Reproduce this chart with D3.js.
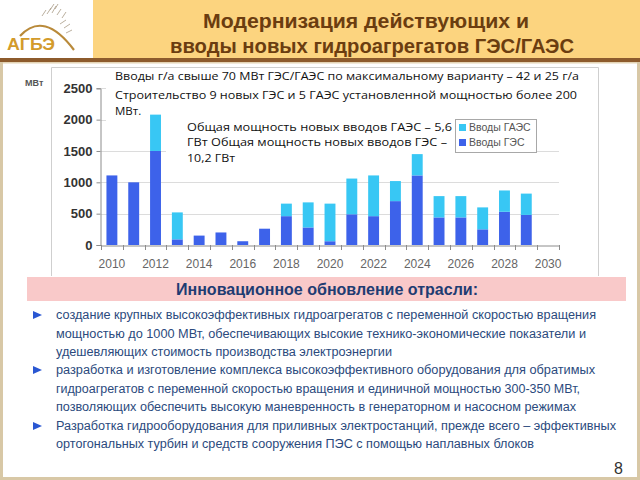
<!DOCTYPE html>
<html><head><meta charset="utf-8">
<script src="https://cdn.jsdelivr.net/npm/d3@7"></script>
<style>body{margin:0;background:#fff}svg{display:block}</style>
</head><body><svg id="c" width="640" height="480"></svg>
<script>
// ---------------- data ----------------
const years = [2010,2011,2012,2013,2014,2015,2016,2017,2018,2019,2020,2021,2022,2023,2024,2025,2026,2027,2028,2029,2030];
const gesValues  = [1110,1000,1500,90,150,200,60,260,460,280,60,490,460,700,1110,440,440,250,530,480,0];
const gaesValues = [0,0,580,430,0,0,0,0,200,400,600,570,650,320,340,340,340,350,340,340,0];
const seriesKeys = ["ges","gaes"];
const seriesNames = {ges:"Вводы ГЭС", gaes:"Вводы ГАЭС"};
const yTicks = [0,500,1000,1500,2000,2500];
const xTickLabels = [2010,2012,2014,2016,2018,2020,2022,2024,2026,2028,2030];
const yUnit = "МВт";
const titleLines = ["Модернизация действующих и","вводы новых гидроагрегатов ГЭС/ГАЭС"];
const noteTop = ["Вводы г/а свыше 70 МВт ГЭС/ГАЭС по максимальному варианту – 42 и 25 г/а",
                 "Строительство 9 новых ГЭС и 5 ГАЭС установленной мощностью более 200",
                 "МВт."];
const noteMid = ["Общая мощность новых вводов ГАЭС –  5,6",
                 "ГВт Общая мощность новых вводов ГЭС –",
                 "10,2 ГВт"];
const bannerText = "Инновационное  обновление  отрасли:";
const bullets = [
  ["создание крупных высокоэффективных гидроагрегатов с переменной скоростью вращения",
   "мощностью до 1000 МВт, обеспечивающих  высокие технико-экономические  показатели и",
   "удешевляющих стоимость производства электроэнергии"],
  ["разработка и изготовление  комплекса высокоэффективного оборудования для обратимых",
   "гидроагрегатов с переменной скоростью вращения и единичной мощностью 300-350 МВт,",
   "позволяющих обеспечить высокую маневренность в генераторном и насосном режимах"],
  ["Разработка гидрооборудования  для приливных электростанций, прежде всего – эффективных",
   "ортогональных турбин и средств сооружения  ПЭС с помощью наплавных блоков"]
];
const pageNumber = "8";

// ---------------- drawing ----------------
const svg = d3.select("#c");
const colors = {ges:"#3d62ea", gaes:"#38c7f4"};

svg.append("rect").attr("width",640).attr("height",480).attr("fill","#fff");

// header
svg.append("rect").attr("x",93).attr("y",0).attr("width",547).attr("height",58).attr("fill","#fcd47f");
svg.append("rect").attr("x",0).attr("y",58).attr("width",640).attr("height",4).attr("fill","#8d5b2c");
svg.append("rect").attr("x",0).attr("y",62).attr("width",640).attr("height",1.5).attr("fill","#e3d3b4");

// logo
const logo = svg.append("g");
logo.append("path").attr("d","M20,36 Q44,10 74,50").attr("fill","none").attr("stroke","#b98a3a").attr("stroke-width",2.2);
const hatch = [[42,16,46,10],[47,14,51,8],[52,13,56,6],[57,15,61,9],[62,18,66,12],[60,24,66,20],[64,28,70,24],[66,33,72,30],[50,10,54,4],[55,9,58,4]];
logo.selectAll("line.h").data(hatch).join("line")
  .attr("x1",d=>d[0]).attr("y1",d=>d[1]).attr("x2",d=>d[2]).attr("y2",d=>d[3])
  .attr("stroke","#a89b85").attr("stroke-width",0.8);
logo.append("text").attr("x",7).attr("y",50).attr("font-family","Liberation Sans, Arial, sans-serif")
  .attr("font-weight","bold").attr("font-size",16).attr("fill","#d39b2b")
  .attr("textLength",48).attr("lengthAdjust","spacingAndGlyphs").text("АГБЭ");

// title
const titleSpec = [{x:203,y:28,w:326},{x:170,y:53,w:404}];
titleLines.forEach((t,i)=>{
  svg.append("text").attr("x",titleSpec[i].x).attr("y",titleSpec[i].y)
    .attr("font-family","Liberation Sans, Arial, sans-serif").attr("font-weight","bold")
    .attr("font-size",19.5).attr("fill","#6b3d10")
    .attr("textLength",titleSpec[i].w).attr("lengthAdjust","spacingAndGlyphs").text(t);
});

// chart frame
svg.append("path").attr("d","M51.5,276 V67.5 H598.5 V276").attr("fill","none").attr("stroke","#cfcfcf");

// scales
const y = d3.scaleLinear().domain([0,2500]).range([245,88.3]);
const xOuter = d3.scaleBand().domain(years).range([101,559]).padding(0);
const x = d3.scaleBand().domain(years).range([101,559]).paddingInner(0.5).paddingOuter(0.25);

// gridlines
svg.append("g").selectAll("line").data(yTicks.filter(v=>v>0)).join("line")
  .attr("x1",101).attr("x2",559).attr("y1",d=>Math.round(y(d))+0.5).attr("y2",d=>Math.round(y(d))+0.5)
  .attr("stroke","#dcdcdc");

// white boxes behind annotations
svg.append("rect").attr("x",106).attr("y",68).attr("width",492).attr("height",54).attr("fill","#fff");
svg.append("rect").attr("x",166).attr("y",120).attr("width",290).attr("height",46).attr("fill","#fff");

// stacked bars
const rows = years.map((yr,i)=>({year:yr, ges:gesValues[i], gaes:gaesValues[i]}));
const stack = d3.stack().keys(seriesKeys)(rows);
svg.append("g").selectAll("g").data(stack).join("g").attr("fill",d=>colors[d.key])
  .selectAll("rect").data(d=>d).join("rect")
  .attr("x",d=>x(d.data.year)).attr("width",x.bandwidth())
  .attr("y",d=>y(d[1])).attr("height",d=>y(d[0])-y(d[1]));

// y axis
const yAxis = svg.append("g").attr("transform","translate(100.5,0)")
  .call(d3.axisLeft(y).tickValues(yTicks).tickSize(4).tickPadding(4).tickFormat(d3.format("d")));
yAxis.select(".domain").attr("stroke","#8c8c8c");
yAxis.selectAll(".tick line").attr("stroke","#8c8c8c");
yAxis.selectAll("text").attr("font-family","Liberation Sans, Arial, sans-serif").attr("font-weight","bold")
  .attr("font-size",13).attr("fill","#333");

// x axis
const xAxis = svg.append("g").attr("transform","translate(0,245.5)")
  .call(d3.axisBottom(xOuter).tickValues(xTickLabels).tickSize(0).tickPadding(14).tickFormat(d3.format("d")));
xAxis.select(".domain").attr("stroke","#8c8c8c");
xAxis.selectAll("text").attr("font-family","Liberation Sans, Arial, sans-serif")
  .attr("font-size",12).attr("fill","#666");
const bounds = years.map(yr=>xOuter(yr)).concat([xOuter(years[years.length-1])+xOuter.bandwidth()]);
svg.append("g").selectAll("line").data(bounds).join("line")
  .attr("x1",d=>Math.round(d)+0.5).attr("x2",d=>Math.round(d)+0.5).attr("y1",245).attr("y2",250)
  .attr("stroke","#8c8c8c");

// unit label
svg.append("text").attr("x",25).attr("y",86).attr("font-family","Liberation Sans, Arial, sans-serif")
  .attr("font-weight","bold").attr("font-size",9).attr("fill","#555").text(yUnit);

// annotations
const noteFont = "Open Sans, Noto Sans, sans-serif";
const topSpec = [{x:115,y:80,w:464},{x:115,y:99,w:462},{x:115,y:115,w:null}];
noteTop.forEach((t,i)=>{
  const el = svg.append("text").attr("x",topSpec[i].x).attr("y",topSpec[i].y)
    .attr("font-family",noteFont).attr("font-size",11.5).attr("fill","#111").text(t);
  if(topSpec[i].w) el.attr("textLength",topSpec[i].w).attr("lengthAdjust","spacingAndGlyphs");
});
const midSpec = [{x:187,y:130.5,w:265},{x:187,y:145.5,w:260},{x:187,y:161.5,w:48}];
noteMid.forEach((t,i)=>{
  svg.append("text").attr("x",midSpec[i].x).attr("y",midSpec[i].y)
    .attr("font-family",noteFont).attr("font-size",11.5).attr("fill","#111")
    .attr("textLength",midSpec[i].w).attr("lengthAdjust","spacingAndGlyphs").text(t);
});

// legend
const lg = svg.append("g");
lg.append("rect").attr("x",455.5).attr("y",119.5).attr("width",81).attr("height",33).attr("fill","#fff").attr("stroke","#a8a8a8");
["gaes","ges"].forEach((k,i)=>{
  lg.append("rect").attr("x",459).attr("y",124+i*15).attr("width",7).attr("height",7).attr("fill",colors[k]);
  lg.append("text").attr("x",469).attr("y",131+i*15).attr("font-family","Liberation Sans, Arial, sans-serif")
    .attr("font-size",10.5).attr("fill","#555").text(seriesNames[k]);
});

// banner
svg.append("rect").attr("x",27).attr("y",277).attr("width",599).attr("height",24).attr("fill","#f9c9c9");
svg.append("text").attr("x",176).attr("y",295).attr("font-family","Liberation Sans Narrow, Liberation Sans, Arial, sans-serif")
  .attr("font-weight","bold").attr("font-size",16).attr("fill","#1f3c72")
  .attr("textLength",302).attr("lengthAdjust","spacingAndGlyphs").text(bannerText);

// bullets
const lineYs = [319,338,355.5,374,393,410.5,430,447.5];
const lineEnds = [596,586,392,595,580,576,616,534];
let li = 0;
bullets.forEach(b=>{
  const yy = lineYs[li];
  svg.append("path").attr("d",`M33,${yy-8} L42,${yy-4} L33,${yy}Z`).attr("fill","#2a57d2");
  b.forEach(t=>{
    svg.append("text").attr("x",56).attr("y",lineYs[li])
      .attr("font-family","Liberation Sans Narrow, Liberation Sans, Arial, sans-serif")
      .attr("font-size",12.5).attr("fill","#2b4a7d")
      .attr("textLength",lineEnds[li]-56).attr("lengthAdjust","spacingAndGlyphs").text(t);
    li++;
  });
});

// page number
svg.append("text").attr("x",614).attr("y",474).attr("font-family","Liberation Sans, Arial, sans-serif")
  .attr("font-size",16).attr("fill","#333").text(pageNumber);

// slide border
svg.append("path").attr("d","M1.5,62 V478.5 H638.5 V62").attr("fill","none").attr("stroke","#d8c8a6").attr("stroke-width",3);
</script></body></html>
